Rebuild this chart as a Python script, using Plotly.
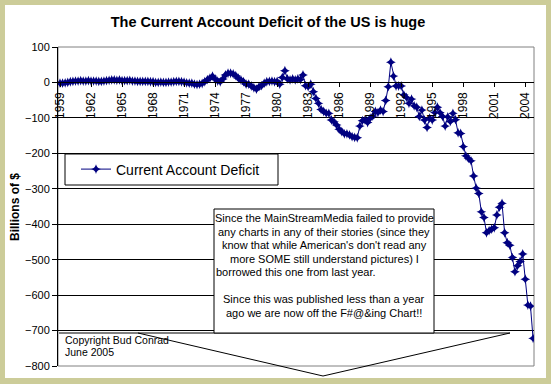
import plotly.graph_objects as go

# ---------------- data (quarterly, annualized, billions of $) ----------------
start_year = 1959
q1959_1969 = [-2, -2, -1, 0, 2, 3, 4, 4, 5, 4, 4, 5, 4, 4, 4, 3, 3, 4, 5, 6,
              7, 7, 6, 7, 5, 5, 5, 6, 4, 4, 3, 3, 3, 3, 3, 2, 2, 0, 0, 1,
              0, 0, 1, 1]
q1970_1979 = [2, 3, 3, 2, 1, -1, -2, -2, -5, -6, -5, -3, 2, 8, 12, 18,
              10, 4, 2, 10, 21, 26, 26, 24, 19, 12, 7, 2, -5, -5, -10, -15,
              -19, -12, -9, -2, 2, 3, 4, 2]
q1980_1989 = [3, -5, 14, 33, 10, 7, 10, 7, 10, 8, 21, -9, -12, -5, -26, -45,
              -59, -76, -82, -87, -87, -106, -111, -120, -132, -139, -145, -145,
              -148, -153, -155, -156, -123, -108, -106, -113, -101, -95, -82, -85]
q1990_1999 = [-78, -82, -51, -12, 57, 18, -10, -10, -10, -35, -42, -59,
              -47, -66, -70, -96, -78, -106, -127, -101, -106, -85, -70, -85,
              -96, -123, -97, -110, -87, -105, -142, -144, -181, -207, -214, -221,
              -264, -298, -313, -365]
q2000_2004 = [-381, -424, -418, -414, -410, -374, -352, -341, -424, -452, -459, -494,
              -534, -517, -505, -484, -555, -628, -631, -722]
deficit = q1959_1969 + q1970_1979 + q1980_1989 + q1990_1999 + q2000_2004
quarters = [start_year + i / 4 for i in range(len(deficit))]

tick_years = list(range(1959, 2005, 3))
tick_labels = [str(y) for y in tick_years]
y_ticks = list(range(-800, 101, 100))

series_name = "Current Account Deficit"
title_text = "The Current Account Deficit of the US is huge"
y_title = "Billions of $"
note_lines = [
    "Since the MainStreamMedia failed to provide",
    "any charts in any of their stories (since they",
    "know that while American's don't read any",
    "more SOME still understand pictures) I",
    "borrowed this one from last year.",
    "",
    "Since this was published less than a year",
    "ago we are now off the F#@&ing Chart!!",
]
copyright_lines = ["Copyright Bud Conrad", "June 2005"]

# ---------------- styling ----------------
FONT = "Liberation Sans, Arial, sans-serif"
KHAKI = "#CCCC99"
NAVY = "#000080"
W, H = 551, 384
L, R, T, B = 58, 534, 47, 366


def X(px):
    return (px - L) / (R - L)


def Y(py):
    return (B - py) / (B - T)


xr = [1959 - 2 / 10.34, 1959 + (R - 60) / 10.34]
zero_pos = (0 - (-800)) / 900

fig = go.Figure()
fig.add_trace(go.Scatter(
    x=quarters, y=deficit, mode="lines+markers", name=series_name,
    line=dict(color=NAVY, width=1),
    marker=dict(symbol="star-diamond", size=7, color=NAVY, line=dict(width=0)),
))

shapes = [
    # white chart area on khaki border
    dict(type="rect", xref="paper", yref="paper", x0=X(5), x1=X(546), y0=Y(5), y1=Y(378),
         fillcolor="white", line=dict(width=0), layer="below"),
    # plot-area border (gray)
    dict(type="rect", xref="paper", yref="paper", x0=0, x1=1, y0=0, y1=1,
         line=dict(color="#808080", width=1), layer="below"),
    # legend box
    dict(type="rect", xref="paper", yref="paper", x0=X(65), x1=X(278), y0=Y(154), y1=Y(185),
         fillcolor="white", line=dict(color="black", width=1), layer="above"),
    # callout base + pointer
    dict(type="path", xref="paper", yref="paper",
         path=f"M {X(59)} {Y(333)} L {X(510)} {Y(333)} M {X(138)} {Y(333)} L {X(323)} {Y(376)} L {X(510)} {Y(333)}",
         line=dict(color="black", width=1), layer="above"),
    # callout box
    dict(type="rect", xref="paper", yref="paper", x0=X(214), x1=X(434), y0=Y(209), y1=Y(333),
         fillcolor="white", line=dict(color="black", width=1), layer="above"),
]

annotations = [
    dict(text=f"<b>{y_title}</b>", xref="paper", yref="paper", x=X(15), y=Y(207),
         xanchor="center", yanchor="middle",
         textangle=-90, showarrow=False, font=dict(family=FONT, size=12, color="black")),
]
line_y = [218, 231.5, 245, 258.5, 272, 285.5, 299, 312.5]
for i, txt in enumerate(note_lines):
    if not txt:
        continue
    if i == 4:
        annotations.append(dict(text=txt, xref="paper", yref="paper", x=X(214), y=Y(line_y[i]),
                                xanchor="left", yanchor="middle", showarrow=False,
                                font=dict(family=FONT, size=11, color="black")))
    else:
        annotations.append(dict(text=txt, xref="paper", yref="paper", x=X(324), y=Y(line_y[i]),
                                xanchor="center", yanchor="middle", showarrow=False,
                                font=dict(family=FONT, size=11, color="black")))
for i, txt in enumerate(copyright_lines):
    annotations.append(dict(text=txt, xref="paper", yref="paper", x=X(63), y=Y(340 + 12 * i),
                            xanchor="left", yanchor="middle", showarrow=False,
                            font=dict(family=FONT, size=10.5, color="black")))

fig.update_layout(
    width=W, height=H,
    margin=dict(l=L, r=W - R, t=T, b=H - B),
    paper_bgcolor=KHAKI, plot_bgcolor="white",
    title=dict(text=f"<b>{title_text}</b>", x=268 / W, xanchor="center",
               y=1 - 22 / H, yanchor="middle", font=dict(family=FONT, size=14.5, color="black")),
    showlegend=True,
    legend=dict(x=X(76), y=Y(169.5), xanchor="left", yanchor="middle",
                bgcolor="rgba(0,0,0,0)", borderwidth=0,
                font=dict(family=FONT, size=14, color="black")),
    xaxis=dict(range=xr, tickvals=tick_years, ticktext=tick_labels, tickangle=-90,
               anchor="free", position=zero_pos, showline=True, linecolor="black", linewidth=1,
               ticks="outside", ticklen=4, tickcolor="black", showgrid=False, zeroline=False,
               tickfont=dict(family=FONT, size=12, color="black")),
    xaxis2=dict(range=xr, overlaying="x", matches="x", tickvals=tick_years, anchor="free",
                position=zero_pos, ticks="inside", ticklen=4, tickcolor="black",
                showticklabels=False, showgrid=False, zeroline=False, showline=False),
    yaxis=dict(range=[-800, 100], tickvals=y_ticks, showline=True, linecolor="black", linewidth=1,
               ticks="outside", ticklen=5, tickcolor="black", showgrid=True, gridcolor="black",
               gridwidth=1, zeroline=False, tickfont=dict(family=FONT, size=11, color="black")),
    shapes=shapes,
    annotations=annotations,
)

fig.write_html("out.html", config={"displayModeBar": False},
               post_script="document.body.style.margin='0';document.body.style.overflow='hidden';")
